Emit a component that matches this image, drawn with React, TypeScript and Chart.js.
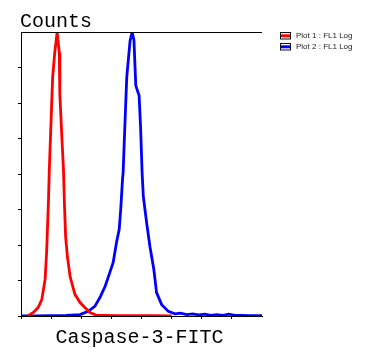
import React, { useEffect, useRef } from "react";
import { Chart, registerables } from "chart.js";

Chart.register(...registerables);

const xTitle = "Caspase-3-FITC";
const yTitle = "Counts";
const seriesLabels = ["Plot 1 : FL1 Log", "Plot 2 : FL1 Log"];
const seriesColors = ["#ff0000", "#0000ff"];

const redX = [0.2, 0.24, 0.41, 0.57, 0.69, 0.8, 0.85, 0.91, 0.94, 1.0, 1.05, 1.12, 1.2, 1.27, 1.29, 1.36, 1.41, 1.44, 1.48, 1.54, 1.63, 1.79, 1.96, 2.12, 2.29, 2.51, 2.8, 3.2, 3.8, 4.4, 5.0];
const redY = [0, 0.01, 0.1, 0.24, 0.46, 1.03, 1.79, 3.2, 4.13, 5.54, 6.72, 7.42, 8.0, 7.42, 6.24, 4.97, 4.13, 3.2, 2.24, 1.68, 1.11, 0.61, 0.38, 0.24, 0.1, 0.02, 0.02, 0.01, 0.01, 0.01, 0];

const blueX = [0, 0.5, 1.0, 1.5, 1.96, 2.23, 2.45, 2.62, 2.79, 2.95, 3.06, 3.17, 3.26, 3.31, 3.37, 3.39, 3.45, 3.51, 3.62, 3.69, 3.75, 3.81, 3.92, 3.97, 4.02, 4.06, 4.17, 4.28, 4.41, 4.5, 4.67, 4.89, 5.11, 5.3, 5.5, 5.7, 5.9, 6.1, 6.3, 6.5, 6.7, 6.9, 7.1, 7.3, 7.6, 8.0];
const blueY = [0, 0, 0.01, 0.02, 0.04, 0.13, 0.27, 0.52, 0.83, 1.23, 1.51, 2.07, 2.44, 3.0, 3.85, 4.04, 5.4, 6.72, 7.75, 8.0, 7.76, 6.49, 6.21, 5.31, 4.04, 3.37, 2.63, 1.96, 1.31, 0.66, 0.32, 0.13, 0.06, 0.08, 0.04, 0.06, 0.03, 0.05, 0.02, 0.04, 0.02, 0.05, 0.02, 0.02, 0.01, 0.01];

const xTicksMax = 7;
const yMax = 8;

const toPoints = (xs: number[], ys: number[]) => xs.map((x, i) => ({ x, y: ys[i] }));

const decorPlugin = {
  id: "decor",
  afterDraw(chart: any) {
    const { ctx, chartArea } = chart;
    ctx.save();
    // top frame line
    ctx.strokeStyle = "#000";
    ctx.lineWidth = 1;
    ctx.beginPath();
    ctx.moveTo(chartArea.left, chartArea.top + 0.5);
    ctx.lineTo(chartArea.right, chartArea.top + 0.5);
    ctx.stroke();
    // titles
    ctx.fillStyle = "#000";
    ctx.textBaseline = "alphabetic";
    ctx.font = "20px 'Liberation Mono'";
    ctx.textAlign = "left";
    ctx.fillText(yTitle, 20, 27);
    ctx.textAlign = "center";
    ctx.fillText(xTitle, (chartArea.left + chartArea.right) / 2 - 2, 343);
    // legend
    ctx.font = "8px 'Liberation Sans'";
    ctx.textAlign = "left";
    ctx.textBaseline = "middle";
    chart.data.datasets.forEach((ds: any, i: number) => {
      const bx = 280.5;
      const by = 32.5 + i * 11;
      ctx.fillStyle = "#fff";
      ctx.fillRect(bx, by, 10, 6.5);
      ctx.fillStyle = ds.borderColor;
      ctx.fillRect(bx, by + 1.8, 10, 3);
      ctx.strokeStyle = "#111";
      ctx.lineWidth = 1;
      ctx.strokeRect(bx, by, 10, 6.5);
      ctx.fillStyle = "#222";
      ctx.fillText(ds.label, 296, by + 3.5);
    });
    ctx.restore();
  },
};

export default function App() {
  const ref = useRef<HTMLCanvasElement | null>(null);
  useEffect(() => {
    if (!ref.current) return;
    const chart = new Chart(ref.current, {
      type: "line",
      data: {
        datasets: [
          {
            label: seriesLabels[0],
            data: toPoints(redX, redY),
            borderColor: seriesColors[0],
            backgroundColor: seriesColors[0],
            borderWidth: 2.8,
            pointRadius: 0,
            tension: 0,
          },
          {
            label: seriesLabels[1],
            data: toPoints(blueX, blueY),
            borderColor: seriesColors[1],
            backgroundColor: seriesColors[1],
            borderWidth: 2.8,
            pointRadius: 0,
            tension: 0,
          },
        ],
      },
      options: {
        responsive: false,
        animation: false,
        layout: { padding: { left: 0, top: 32, right: 108, bottom: 0 } },
        plugins: { legend: { display: false }, tooltip: { enabled: false }, title: { display: false } },
        scales: {
          x: {
            type: "linear",
            min: 0,
            max: 8,
            ticks: { display: false, stepSize: 1 },
            grid: {
              drawOnChartArea: false,
              drawTicks: true,
              tickLength: 3,
              color: (c: any) => (c.tick && c.tick.value > xTicksMax ? "rgba(0,0,0,0)" : "#000"),
            },
            border: { display: true, color: "#000", width: 1 },
            afterFit: (s: any) => {
              s.height = 40;
            },
          },
          y: {
            min: 0,
            max: yMax,
            ticks: { display: false, stepSize: 1 },
            grid: {
              drawOnChartArea: false,
              drawTicks: true,
              tickLength: 3,
              color: (c: any) => (c.tick && c.tick.value >= yMax ? "rgba(0,0,0,0)" : "#000"),
            },
            border: { display: true, color: "#000", width: 1 },
            afterFit: (s: any) => {
              s.width = 21;
            },
          },
        },
      },
      plugins: [decorPlugin],
    });
    return () => chart.destroy();
  }, []);
  return (
    <div style={{ position: "absolute", left: 0, top: 0, width: 370, height: 356, background: "#fff" }}>
      <canvas ref={ref} width={370} height={356} style={{ display: "block", width: 370, height: 356 }} />
    </div>
  );
}
